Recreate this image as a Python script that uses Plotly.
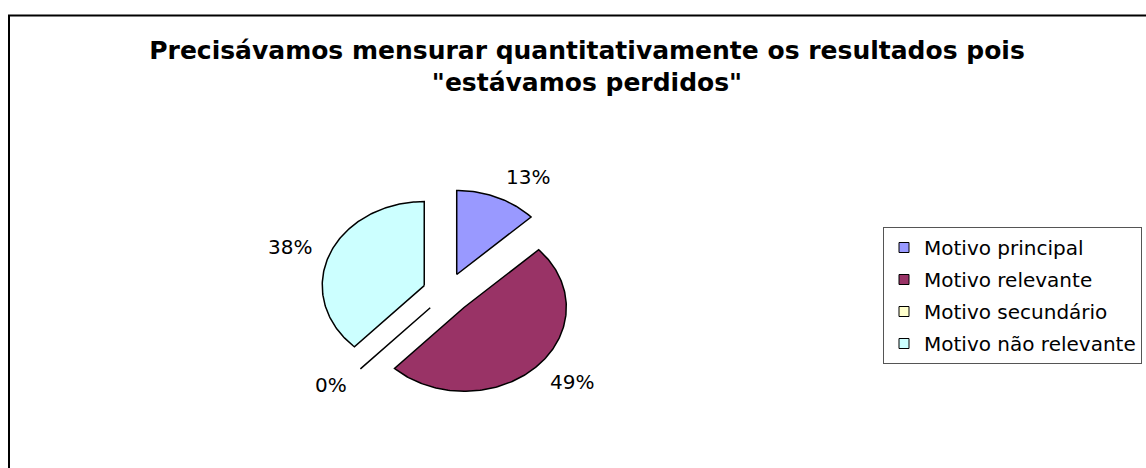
import math
import plotly.graph_objects as go

# Chart data
categories = ["Motivo principal", "Motivo relevante", "Motivo secundário", "Motivo não relevante"]
percentages = [13, 49, 0, 38]
slice_colors = ["#9999FF", "#993366", "#FFFFCC", "#CCFFFF"]
title_text = 'Precisávamos mensurar quantitativamente os resultados pois<br>"estávamos perdidos"'

# Layout constants (pixel space of the figure)
W, H = 1146, 468
CX, CY = 447, 293          # centre of the (un-exploded) pie
RX, RY = 102, 84           # pie radii (pie is drawn slightly wide)
PULL = 0.24                # explosion, as a fraction of the radius
FONT = "DejaVu Sans"

fig = go.Figure()

total = float(sum(percentages))
start = 0.0
label_x, label_y, label_anchor, label_text = [], [], [], []
for name, pct, color in zip(categories, percentages, slice_colors):
    span = 360.0 * pct / total
    mid = math.radians(start + span / 2)
    sx, cx = math.sin(mid), math.cos(mid)
    # exploded slice origin
    ox = CX + PULL * RX * sx
    oy = CY - PULL * RY * cx
    steps = max(1, int(span))
    angles = [math.radians(start + span * i / steps) for i in range(steps + 1)]
    xs = [ox] + [ox + RX * math.sin(a) for a in angles] + [ox]
    ys = [oy] + [oy - RY * math.cos(a) for a in angles] + [oy]
    fig.add_trace(go.Scatter(
        x=xs, y=ys, mode="lines", fill="toself", fillcolor=color,
        line=dict(color="black", width=1.5), legendgroup=name,
        showlegend=False, hoverinfo="skip",
    ))
    # percentage label outside the slice
    label_x.append(CX + 1.4 * RX * sx)
    label_y.append(CY - 1.5 * RY * cx)
    label_anchor.append("left" if sx >= 0 else "right")
    label_text.append(f"{pct:.0f}%")
    start += span

# Legend entries (square swatches)
for name, color in zip(categories, slice_colors):
    fig.add_trace(go.Scatter(
        x=[None], y=[None], mode="markers", name=name, legendgroup=name,
        marker=dict(symbol="square", size=10, color=color,
                    line=dict(color="black", width=1)),
    ))

for x, y, anc, txt in zip(label_x, label_y, label_anchor, label_text):
    fig.add_annotation(x=x, y=y, xref="x", yref="y", text=txt, showarrow=False,
                       xanchor=anc, yanchor="middle",
                       font=dict(family=FONT, size=20, color="black"))

# Chart area frame
fig.add_shape(type="rect", xref="paper", yref="paper",
              x0=9 / W, x1=1.05, y0=-0.05, y1=1 - 15.5 / H,
              line=dict(color="black", width=2), fillcolor="rgba(0,0,0,0)")

fig.update_layout(
    width=W, height=H,
    margin=dict(l=0, r=0, t=0, b=0),
    paper_bgcolor="white", plot_bgcolor="white",
    xaxis=dict(range=[0, W], domain=[0, 1], visible=False, fixedrange=True),
    yaxis=dict(range=[H, 0], domain=[0, 1], visible=False, fixedrange=True),
    title=dict(text=title_text, x=587 / W, xanchor="center",
               y=1 - 58.5 / H, yanchor="middle",
               font=dict(family=FONT, size=25, color="black", weight="bold")),
    legend=dict(x=883 / W, y=1 - 227 / H, xanchor="left", yanchor="top",
                bgcolor="white", bordercolor="#555555", borderwidth=1,
                font=dict(family=FONT, size=20, color="black"),
                itemwidth=30, traceorder="grouped", tracegroupgap=3),
    showlegend=True,
)

fig.write_html("out.html")
